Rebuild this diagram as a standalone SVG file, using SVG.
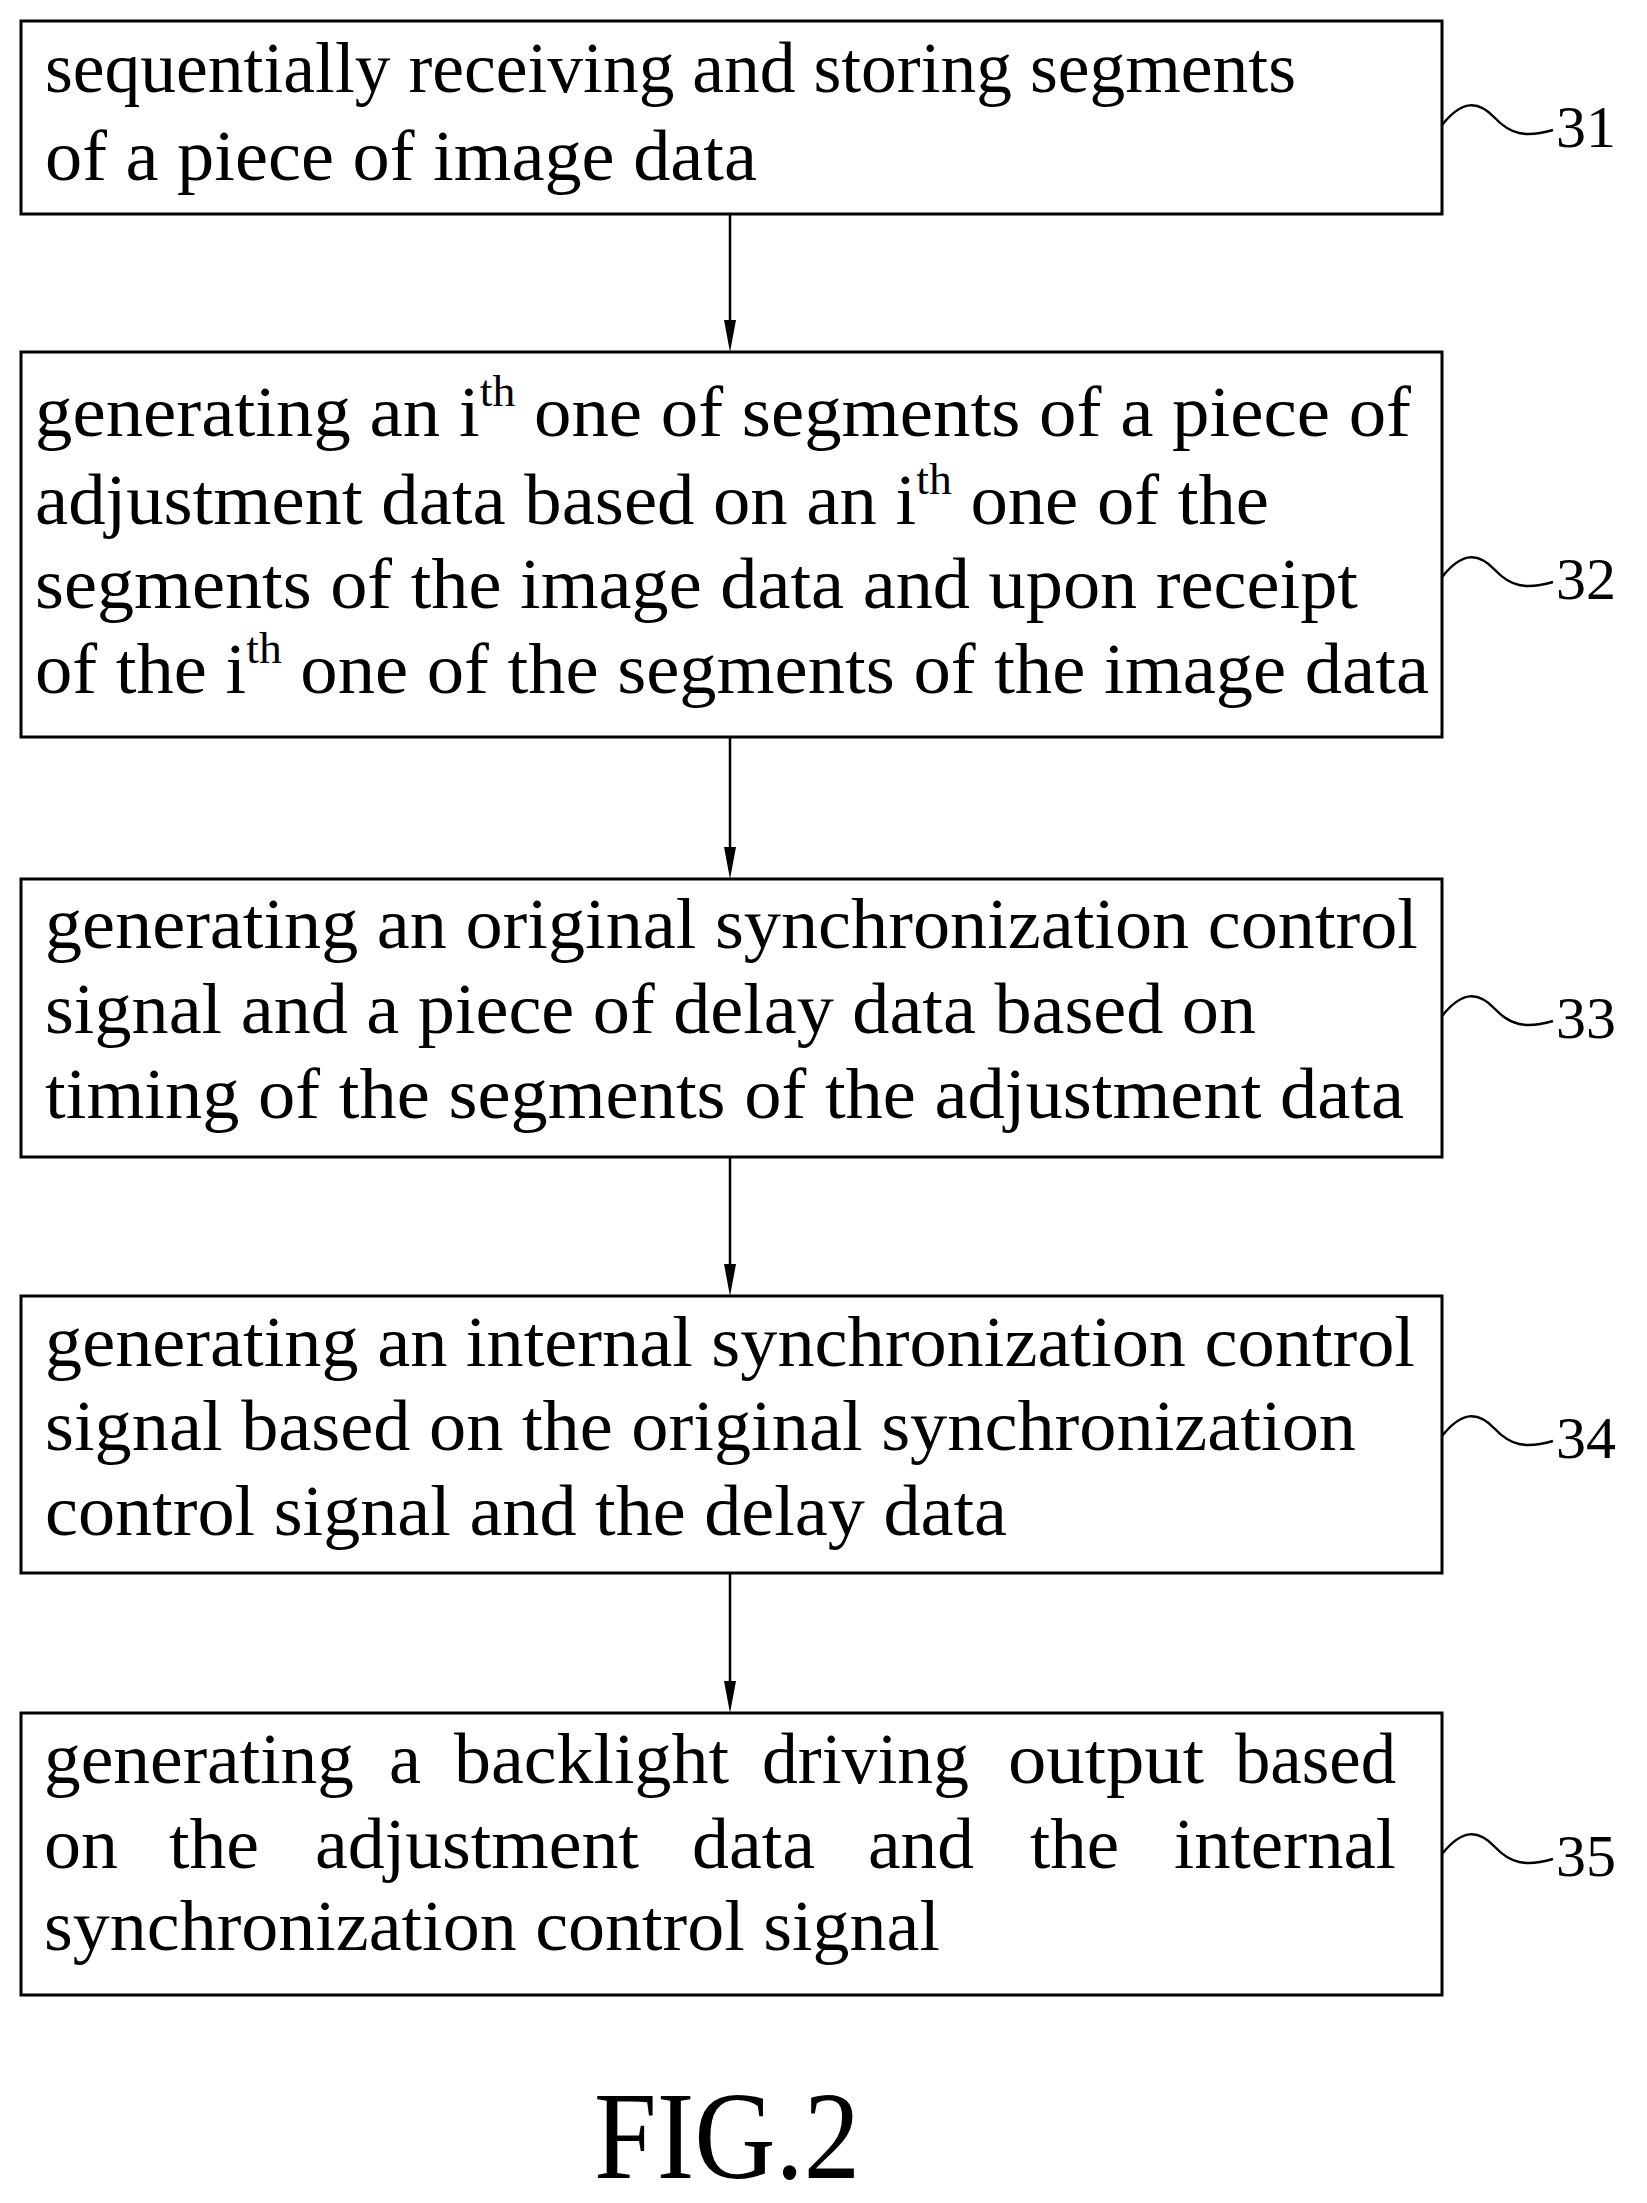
<svg xmlns="http://www.w3.org/2000/svg" width="1647" height="2203" viewBox="0 0 1647 2203">
<style>
.box{fill:#fff;stroke:#000;stroke-width:3}
.t{font-family:"Liberation Serif","Times New Roman",serif;font-size:72px;fill:#000}
.sup{font-size:44px}
.lbl{font-family:"Liberation Serif",serif;font-size:60px;fill:#000}
.sq{fill:none;stroke:#000;stroke-width:2.5}
.c{stroke:#000;stroke-width:2.5;fill:none}
.ah{fill:#000}
</style>
<rect width="1647" height="2203" fill="#fff"/>
<g id="connectors">
<line class="c" x1="730" y1="214" x2="730" y2="330"/><path class="ah" d="M724,320 L736,320 L730,352 Z"/>
<line class="c" x1="730" y1="737" x2="730" y2="860"/><path class="ah" d="M724,847 L736,847 L730,879 Z"/>
<line class="c" x1="730" y1="1157" x2="730" y2="1275"/><path class="ah" d="M724,1264 L736,1264 L730,1296 Z"/>
<line class="c" x1="730" y1="1573" x2="730" y2="1690"/><path class="ah" d="M724,1681 L736,1681 L730,1713 Z"/>
</g>
<g id="n31">
<rect class="box" x="21" y="21" width="1421" height="193"/>
<text class="t" x="45" y="92" textLength="1251" lengthAdjust="spacingAndGlyphs">sequentially receiving and storing segments</text>
<text class="t" x="45" y="180" textLength="712" lengthAdjust="spacingAndGlyphs">of a piece of image data</text>
<path class="sq" d="M1442,125 C1462,100 1478,100 1495,118 C1510,134 1525,138 1553,130"/>
<text class="lbl" x="1556" y="147">31</text>
</g>
<g id="n32">
<rect class="box" x="21" y="352" width="1421" height="385"/>
<text class="t" x="35" y="436" textLength="1376" lengthAdjust="spacingAndGlyphs">generating an i<tspan class="sup" dy="-30">th</tspan><tspan dy="30"> one of segments of a piece of</tspan></text>
<text class="t" x="35" y="524" textLength="1234" lengthAdjust="spacingAndGlyphs">adjustment data based on an i<tspan class="sup" dy="-30">th</tspan><tspan dy="30"> one of the</tspan></text>
<text class="t" x="35" y="608" textLength="1323" lengthAdjust="spacingAndGlyphs">segments of the image data and upon receipt</text>
<text class="t" x="35" y="693" textLength="1394" lengthAdjust="spacingAndGlyphs">of the i<tspan class="sup" dy="-30">th</tspan><tspan dy="30"> one of the segments of the image data</tspan></text>
<path class="sq" d="M1442,577 C1462,552 1478,552 1495,570 C1510,586 1525,590 1553,582"/>
<text class="lbl" x="1556" y="599">32</text>
</g>
<g id="n33">
<rect class="box" x="21" y="879" width="1421" height="278"/>
<text class="t" x="45" y="948" textLength="1373" lengthAdjust="spacingAndGlyphs">generating an original synchronization control</text>
<text class="t" x="45" y="1033" textLength="1211" lengthAdjust="spacingAndGlyphs">signal and a piece of delay data based on</text>
<text class="t" x="45" y="1118" textLength="1359" lengthAdjust="spacingAndGlyphs">timing of the segments of the adjustment data</text>
<path class="sq" d="M1442,1016 C1462,991 1478,991 1495,1009 C1510,1025 1525,1029 1553,1021"/>
<text class="lbl" x="1556" y="1038">33</text>
</g>
<g id="n34">
<rect class="box" x="21" y="1296" width="1421" height="277"/>
<text class="t" x="45" y="1366" textLength="1370" lengthAdjust="spacingAndGlyphs">generating an internal synchronization control</text>
<text class="t" x="45" y="1450" textLength="1311" lengthAdjust="spacingAndGlyphs">signal based on the original synchronization</text>
<text class="t" x="45" y="1535" textLength="962" lengthAdjust="spacingAndGlyphs">control signal and the delay data</text>
<path class="sq" d="M1442,1436 C1462,1411 1478,1411 1495,1429 C1510,1445 1525,1449 1553,1441"/>
<text class="lbl" x="1556" y="1458">34</text>
</g>
<g id="n35">
<rect class="box" x="21" y="1713" width="1421" height="282"/>
<text class="t" y="1783"><tspan x="44" textLength="310" lengthAdjust="spacingAndGlyphs">generating</tspan><tspan x="389">a</tspan><tspan x="454" textLength="275" lengthAdjust="spacingAndGlyphs">backlight</tspan><tspan x="762" textLength="207" lengthAdjust="spacingAndGlyphs">driving</tspan><tspan x="1008" textLength="196" lengthAdjust="spacingAndGlyphs">output</tspan><tspan x="1235" textLength="161" lengthAdjust="spacingAndGlyphs">based</tspan></text>
<text class="t" y="1868"><tspan x="44" textLength="74" lengthAdjust="spacingAndGlyphs">on</tspan><tspan x="169" textLength="90" lengthAdjust="spacingAndGlyphs">the</tspan><tspan x="315" textLength="324" lengthAdjust="spacingAndGlyphs">adjustment</tspan><tspan x="692" textLength="123" lengthAdjust="spacingAndGlyphs">data</tspan><tspan x="868" textLength="106" lengthAdjust="spacingAndGlyphs">and</tspan><tspan x="1030" textLength="89" lengthAdjust="spacingAndGlyphs">the</tspan><tspan x="1174" textLength="222" lengthAdjust="spacingAndGlyphs">internal</tspan></text>
<text class="t" x="44" y="1950" textLength="896" lengthAdjust="spacingAndGlyphs">synchronization control signal</text>
<path class="sq" d="M1442,1854 C1462,1829 1478,1829 1495,1847 C1510,1863 1525,1867 1553,1859"/>
<text class="lbl" x="1556" y="1876">35</text>
</g>
<text class="t" x="594" y="2178" style="font-size:125px" textLength="266" lengthAdjust="spacingAndGlyphs">FIG.2</text>
</svg>
